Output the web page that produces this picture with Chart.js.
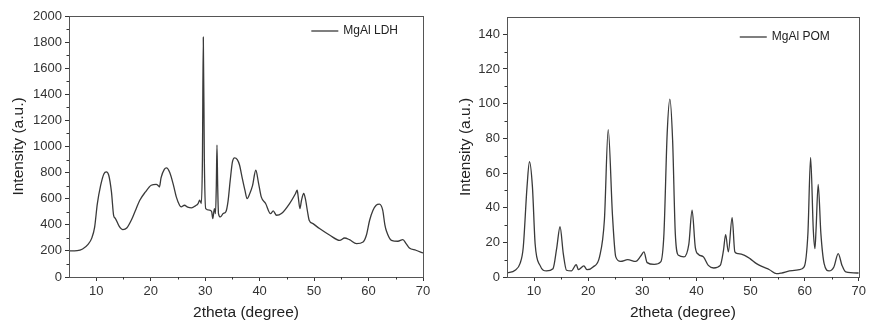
<!DOCTYPE html>
<html>
<head>
<meta charset="utf-8">
<script src="https://cdn.jsdelivr.net/npm/chart.js@4/dist/chart.umd.min.js"></script>
<style>
  body { margin: 0; background: #fff; }
  #wrap { position: relative; width: 869px; height: 322px; }
  canvas { position: absolute; top: 0; }
</style>
</head>
<body>
<div id="wrap">
  <canvas id="ldh" width="435" height="322" style="left:0"></canvas>
  <canvas id="pom" width="434" height="322" style="left:435px"></canvas>
</div>
<script>
// tick labels
const xTicks = [10, 20, 30, 40, 50, 60, 70];
const ldhYTicks = [0, 200, 400, 600, 800, 1000, 1200, 1400, 1600, 1800, 2000];
const pomYTicks = [0, 20, 40, 60, 80, 100, 120, 140];

// MgAl LDH pattern
const ldhX = [5, 6.5, 7.5, 8.5, 9.2, 9.7, 10.2, 10.8, 11.4, 11.85, 12.3, 12.8, 13.2, 13.5, 14.2, 14.9, 15.6, 16.5, 17.3, 18,
  19, 20.1, 21, 21.4, 21.6, 21.9, 22.5, 22.9, 23.5, 24.2, 24.7, 25.3, 25.6, 26.2, 26.8, 27.5, 28.2, 28.7, 29.0, 29.3,
  29.5, 29.66, 29.85, 30.1, 30.8, 31.2, 31.4, 31.7, 31.9, 32.05, 32.17, 32.3, 32.45, 32.8, 33.3, 33.8, 34.2, 34.6, 35.0, 35.4,
  35.9, 36.3, 36.8, 37.3, 37.7, 38.2, 38.7, 39.3, 39.8, 40.3, 41.1, 42, 42.5, 43.1, 44, 45.5, 46.6, 46.9, 47.1, 47.4,
  47.7, 48.1, 48.4, 48.8, 49.1, 49.8, 51, 52.9, 54.7, 55.6, 56.5, 57.8, 59, 59.6, 60.2, 60.8, 61.4, 62, 62.6, 63.0,
  63.3, 64.2, 65.4, 66.3, 66.9, 67.5, 68.7, 70];
const ldhY = [200, 202, 215, 250, 300, 380, 560, 700, 790, 806, 780, 650, 470, 450, 390, 363, 375, 440, 520, 588,
  650, 703, 710, 700, 690, 760, 825, 836, 800, 700, 614, 550, 537, 550, 535, 530, 545, 563, 588, 563,
  900, 1837, 900, 524, 512, 500, 448, 524, 486, 700, 1010, 700, 486, 460, 486, 500, 580, 740, 880, 913,
  900, 860, 760, 665, 600, 640, 700, 818, 720, 614, 563, 486, 506, 473, 486, 563, 640, 665, 610, 524,
  590, 640, 600, 500, 435, 409, 371, 320, 281, 299, 286, 256, 269, 320, 435, 510, 550, 558, 512, 400,
  350, 281, 274, 286, 256, 222, 205, 184];

// MgAl POM pattern
const pomX = [5, 6.5, 7.4, 8, 8.7, 9.15, 9.7, 10.2, 11.1, 12.3, 13.5, 14.2, 14.8, 15.4, 16, 16.9, 17.8, 18.2, 19.2, 19.8,
  20.9, 22.1, 23, 23.7, 24.5, 25.1, 26, 27.3, 28.8, 29.7, 30.3, 30.9, 32.2, 33.4, 34, 34.6, 35.1, 35.6, 36.1, 36.7,
  37.7, 38.6, 39.2, 39.8, 40.4, 41.3, 42.2, 43.2, 44.4, 45, 45.4, 45.9, 46.6, 47.1, 47.7, 48.9, 49.9, 51.1, 52.3, 53.5,
  54.8, 55.7, 57.2, 59, 59.9, 60.6, 61.1, 61.6, 61.9, 62.1, 62.5, 63, 63.6, 64.5, 65.4, 66.2, 66.9, 67.6, 70];
const pomY = [2.3, 3.9, 7.7, 17, 52, 66.5, 52, 19, 6.7, 3.5, 4.8, 17, 29, 13.5, 3.9, 3.5, 7.1, 4.2, 6.4, 4.2,
  5.8, 11.6, 33, 85, 35, 11.6, 9, 10, 9, 12, 14.5, 8.3, 7.3, 8.7, 25, 83, 102.6, 79, 25, 12.5,
  11.6, 19, 38.6, 17, 13, 11.6, 6.7, 5.2, 6.7, 15.4, 24.5, 14.5, 34.3, 14.5, 13.5, 12.5, 10.6, 7.7, 5.8, 4.2,
  1.9, 2.3, 3.5, 4.2, 5.8, 25, 69, 27, 16.4, 27, 53.4, 25, 7.7, 3.5, 5.8, 13.5, 6.7, 2.9, 2.3];

const ink = '#333';
const font = 'Liberation Sans, Arial, sans-serif';

const mids = t => t.slice(1).map((v, i) => (v + t[i]) / 2);

// box frame, short minor ticks and the in-plot legend
const frame = {
  id: 'frame',
  afterDraw(chart, args, opts) {
    const { ctx, chartArea: a, scales: { x, y } } = chart;
    ctx.save();
    ctx.strokeStyle = '#555';
    ctx.lineWidth = 1;
    ctx.strokeRect(Math.round(a.left) + 0.5, Math.round(a.top) + 0.5,
      Math.round(a.right - a.left), Math.round(a.bottom - a.top));
    ctx.strokeStyle = ink;
    ctx.beginPath();
    opts.xMinor.forEach(v => {
      const px = Math.round(x.getPixelForValue(v)) + 0.5;
      ctx.moveTo(px, a.bottom); ctx.lineTo(px, a.bottom + 2.5);
    });
    opts.yMinor.forEach(v => {
      const py = Math.round(y.getPixelForValue(v)) + 0.5;
      ctx.moveTo(a.left, py); ctx.lineTo(a.left - 2.5, py);
    });
    ctx.stroke();

    // legend
    const ds = chart.data.datasets[0];
    const tx = a.right - opts.legendRight;
    ctx.font = '12px ' + font;
    const tw = ctx.measureText(ds.label).width;
    const ly = a.top + opts.legendTop;
    const x0 = tx - tw - 5;
    ctx.strokeStyle = ds.borderColor;
    ctx.lineWidth = 1.3;
    ctx.beginPath();
    ctx.moveTo(x0 - 27, ly); ctx.lineTo(x0, ly);
    ctx.stroke();
    ctx.fillStyle = '#222';
    ctx.textBaseline = 'middle';
    ctx.textAlign = 'left';
    ctx.fillText(ds.label, tx - tw, ly);
    ctx.restore();
  }
};

function makeChart(id, label, xs, ys, yTicks, yMax, pad, yTitlePad, legendTop, legendRight) {
  new Chart(document.getElementById(id), {
    type: 'line',
    data: {
      datasets: [{
        label: label,
        data: xs.map((x, i) => ({ x: x, y: ys[i] })),
        borderColor: '#3a3a3a',
        borderWidth: 1.3,
        pointRadius: 0,
        cubicInterpolationMode: 'monotone',
        fill: false
      }]
    },
    options: {
      responsive: false,
      animation: false,
      devicePixelRatio: 1,
      layout: { padding: pad },
      plugins: {
        tooltip: { enabled: false },
        legend: { display: false },
        frame: { xMinor: mids(xTicks), yMinor: mids(yTicks), legendTop: legendTop, legendRight: legendRight }
      },
      scales: {
        x: {
          type: 'linear',
          min: 5,
          max: 70,
          afterFit: s => { s.height = 45; },
          afterBuildTicks: s => { s.ticks = xTicks.map(v => ({ value: v })); },
          grid: { drawOnChartArea: false, drawTicks: true, tickLength: 4, tickColor: ink },
          border: { display: true, color: ink, width: 1 },
          ticks: { color: ink, padding: 3, maxRotation: 0, callback: v => String(v),
            font: { family: font, size: 13 } },
          title: { display: true, text: '2theta (degree)', color: '#222', padding: { top: 0, bottom: 0 },
            font: { family: font, size: 15.5 } }
        },
        y: {
          type: 'linear',
          min: 0,
          max: yMax,
          afterFit: s => { s.width = pad.yw; },
          afterBuildTicks: s => { s.ticks = yTicks.map(v => ({ value: v })); },
          grid: { drawOnChartArea: false, drawTicks: true, tickLength: 4, tickColor: ink },
          border: { display: true, color: ink, width: 1 },
          ticks: { color: ink, padding: 3, callback: v => String(v), font: { family: font, size: 13 } },
          title: { display: true, text: 'Intensity (a.u.)', color: '#222', padding: { top: yTitlePad, bottom: 0 },
            font: { family: font, size: 15.5 } }
        }
      }
    },
    plugins: [frame]
  });
}

makeChart('ldh', 'MgAl LDH', ldhX, ldhY, ldhYTicks, 2000,
  { left: 0, right: 12, top: 16, bottom: 0, yw: 69 }, 9, 15, 25);
makeChart('pom', 'MgAl POM', pomX, pomY, pomYTicks, 150,
  { left: 0, right: 7, top: 17, bottom: 0, yw: 72 }, 21, 20, 29);
</script>
</body>
</html>
